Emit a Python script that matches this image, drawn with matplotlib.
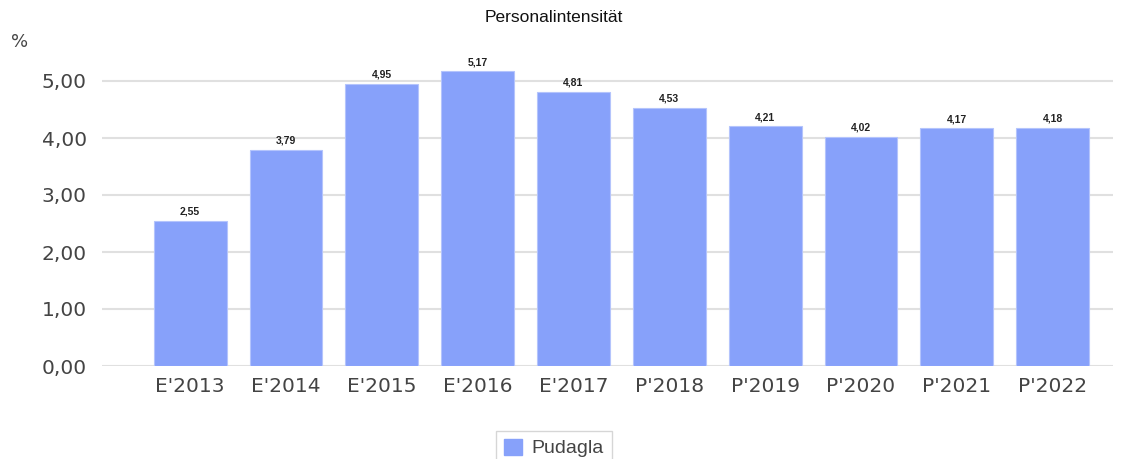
import matplotlib
matplotlib.use("Agg")
import matplotlib.pyplot as plt
from matplotlib.patches import Patch

categories = ["E'2013", "E'2014", "E'2015", "E'2016", "E'2017", "P'2018", "P'2019", "P'2020", "P'2021", "P'2022"]
values = [2.55, 3.79, 4.95, 5.17, 4.81, 4.53, 4.21, 4.02, 4.17, 4.18]
series_name = "Pudagla"
yticks = [0, 1, 2, 3, 4, 5]

W, H = 1133, 459
fig = plt.figure(figsize=(W/100, H/100), dpi=100)
ax = fig.add_axes([102/W, 1-366/H, (1113-102)/W, (366-52.5)/H])

bar_color = "#87a1fa"
x = list(range(len(categories)))
ax.bar(x, values, width=0.76, color=bar_color, edgecolor="#b4c4fc", linewidth=0.8, zorder=3)
for xi, v in zip(x, values):
    ax.text(xi, v + 0.07, f"{v:.2f}".replace(".", ","), ha="center", va="bottom",
            fontsize=7.5, fontweight="bold", color="#222222", family="Liberation Sans", zorder=4)

ax.set_xlim(-0.92, 9.63)
ax.set_ylim(0, 5.5)
ax.set_yticks(yticks)
ax.set_yticklabels([f"{t:.2f}".replace(".", ",") for t in yticks])
ax.set_xticks(x)
ax.set_xticklabels(categories)
ax.tick_params(axis="both", length=0, labelsize=14.5, labelcolor="#444444")
ax.tick_params(axis="y", pad=11)
ax.tick_params(axis="x", pad=8)
for lbl in ax.get_xticklabels() + ax.get_yticklabels():
    lbl.set_family("DejaVu Sans")
ax.grid(axis="y", color="#e0e0e0", linewidth=1.5, zorder=0)
for s in ax.spines.values():
    s.set_visible(False)

fig.text(554/W, 1-18/H, "Personalintensität", ha="center", va="center", fontsize=12.5,
         family="Liberation Sans", color="#111111")
fig.text(20/W, 1-42/H, "%", ha="center", va="center", fontsize=13, family="DejaVu Sans", color="#444444")

handle = Patch(facecolor=bar_color, edgecolor=bar_color)
leg = fig.legend([handle], [series_name], loc="upper center", bbox_to_anchor=(554/W, 1-421/H),
                 frameon=True, fancybox=False, edgecolor="#cccccc", handlelength=0.9, handleheight=0.9,
                 handletextpad=0.5, borderpad=0.4, prop={"family": "Liberation Sans", "size": 14})
for t in leg.get_texts():
    t.set_color("#444444")

fig.savefig("out.png", dpi=100)
